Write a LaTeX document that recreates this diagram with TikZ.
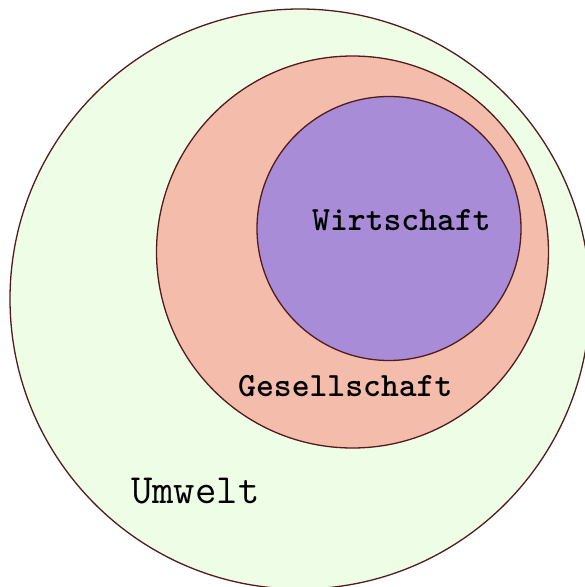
\documentclass[tikz,border=0pt]{standalone}
\usepackage{fontspec}
\definecolor{umweltfill}{RGB}{238,253,230}
\definecolor{gesfill}{RGB}{244,188,171}
\definecolor{wirtfill}{RGB}{169,140,216}
\definecolor{rim}{RGB}{80,28,28}
\tikzset{
  ring/.style={circle, draw=rim, line width=1.3pt, inner sep=0pt},
  lab/.style={font=\ttfamily\bfseries\fontsize{34}{35}\selectfont, text=black, inner sep=0pt},
  labreg/.style={font=\ttfamily\fontsize{41.5}{42}\selectfont, text=black, inner sep=0pt}
}
\begin{document}
\begin{tikzpicture}[x=1pt,y=-1pt]
\useasboundingbox (0,0) rectangle (585,587);
\clip (0,0) rectangle (585,587);
\node[ring, fill=umweltfill, minimum size=580pt] (umwelt) at (300,299) {};
\node[ring, fill=gesfill, minimum size=392pt] (ges) at (352.5,252) {};
\node[ring, fill=wirtfill, minimum size=264pt] (wirt) at (389,228.5) {};
\node[lab, anchor=base west] (twirt) at (312,230) {Wirtschaft};
\node[lab, anchor=base west] (tges) at (238,396) {Gesellschaft};
\node[labreg, anchor=base west] (tumw) at (131,503) {Umwelt};
\end{tikzpicture}
\end{document}
